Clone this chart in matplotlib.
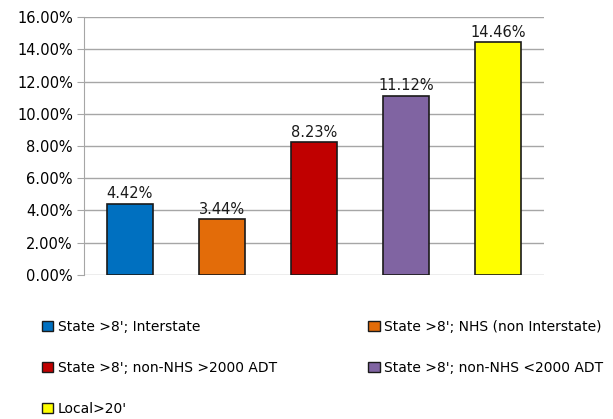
import matplotlib
matplotlib.use("Agg")
import matplotlib.pyplot as plt
from matplotlib.patches import Patch

categories = [
    "State >8'; Interstate",
    "State >8'; NHS (non Interstate)",
    "State >8'; non-NHS >2000 ADT",
    "State >8'; non-NHS <2000 ADT",
    "Local>20'",
]
values = [4.42, 3.44, 8.23, 11.12, 14.46]
colors = ["#0070C0", "#E36C09", "#C00000", "#8064A2", "#FFFF00"]
yticks = [0, 2, 4, 6, 8, 10, 12, 14, 16]

plt.rcParams["font.family"] = ["DejaVu Sans"]
grid_c = "#A6A6A6"

fig = plt.figure(figsize=(6.13, 4.19), dpi=100)
ax = fig.add_axes([0.137, 0.344, 0.750, 0.615])

x = range(len(values))
ax.bar(x, values, width=0.5, color=colors, edgecolor="#1a1a1a",
       linewidth=1.2, zorder=3)
for xi, v in zip(x, values):
    ax.text(xi, v + 0.15, f"{v:.2f}%", ha="center", va="bottom",
            fontsize=10.5, color="#1a1a1a")

ax.set_xlim(-0.5, len(values) - 0.5)
ax.set_ylim(0, 16)
ax.set_yticks(yticks)
ax.set_yticklabels([f"{t:.2f}%" for t in yticks], fontsize=10.5)
ax.set_xticks([])
ax.yaxis.grid(True, color=grid_c, linewidth=1.0, zorder=0)
for s in ["top", "right", "bottom"]:
    ax.spines[s].set_visible(False)
ax.spines["left"].set_color(grid_c)
ax.tick_params(axis="y", length=5, color=grid_c, pad=3)

# legend fills row by row in the reference -> reorder for column-wise fill
handles = [Patch(facecolor=c, edgecolor="#1a1a1a", label=l)
           for c, l in zip(colors, categories)]
order = [0, 2, 4, 1, 3]
fig.legend(handles=[handles[i] for i in order], ncol=2, loc="upper left",
           bbox_to_anchor=(0.060, 0.250), frameon=False, fontsize=10,
           handlelength=0.8, handleheight=0.8, handletextpad=0.3,
           columnspacing=6.6, labelspacing=1.95, borderaxespad=0)

fig.savefig("out.png", dpi=100)
